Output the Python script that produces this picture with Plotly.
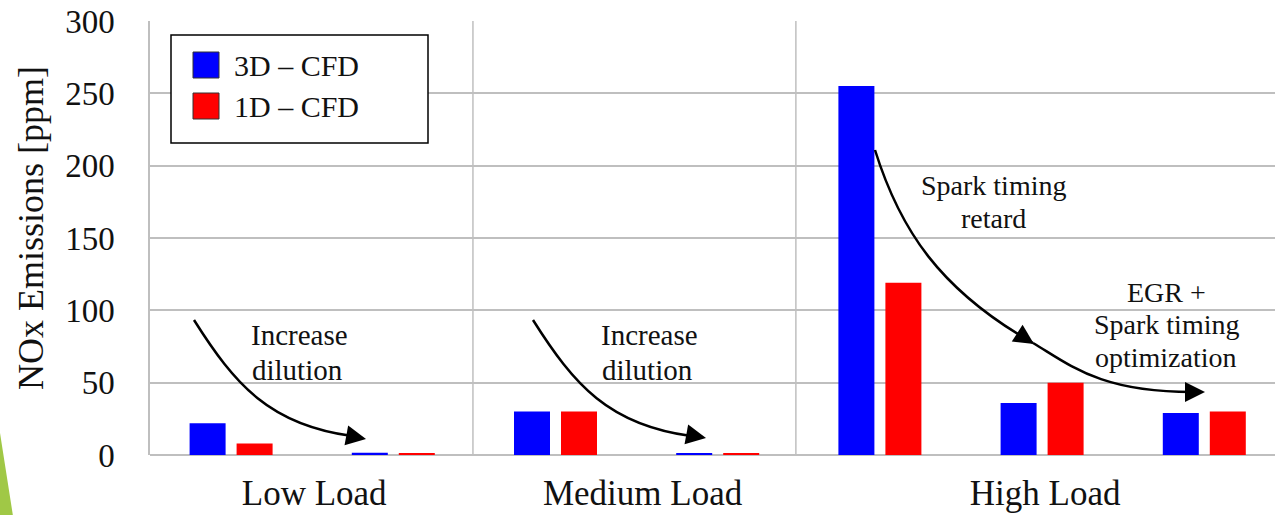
import plotly.graph_objects as go

# ---------------- data ----------------
categories = ["Low Load", "Medium Load", "High Load"]
cases_per_category = [2, 2, 3]
series_names = ["3D – CFD", "1D – CFD"]
nox_3d = [22, 1.5, 30, 1.0, 255, 36, 29]
nox_1d = [8, 0.8, 30, 0.8, 119, 50, 30]
y_ticks = [0, 50, 100, 150, 200, 250, 300]

# ---------------- layout constants ----------------
W, H = 1275, 515
ML, MT, MB = 150, 21, 60
PW, PH = W - ML, H - MT - MB
SLOT = 162.2                     # pixels per case slot
XMAX = PW / SLOT
YMAX = 300
BAR_W = 36 / SLOT
OFF = 23.5 / SLOT
SERIF = "Liberation Serif, Times New Roman, serif"
BLUE, RED = "#0000FF", "#FF0000"
GRID = "#BFBFBF"
LABEL_NUDGE = [2 / SLOT, 6 / SLOT, 3 / SLOT]


def dx(px):  # pixel -> data x
    return (px - ML) / SLOT


def dy(py):  # pixel -> data y
    return (MT + PH - py) / PH * YMAX


def pxp(px):  # pixel -> paper x
    return (px - ML) / PW


def pyp(py):  # pixel -> paper y
    return (MT + PH - py) / PH


n_cases = sum(cases_per_category)
centers = [i + 0.5 for i in range(n_cases)]

fig = go.Figure()
fig.add_trace(go.Bar(x=[c - OFF for c in centers], y=nox_3d, width=BAR_W,
                     marker=dict(color=BLUE, line=dict(width=0)),
                     name=series_names[0], showlegend=False))
fig.add_trace(go.Bar(x=[c + OFF for c in centers], y=nox_1d, width=BAR_W,
                     marker=dict(color=RED, line=dict(width=0)),
                     name=series_names[1], showlegend=False))

# category label positions and separators
cat_pos, seps, start = [], [], 0
for k, n in enumerate(cases_per_category):
    cat_pos.append(start + n / 2 + LABEL_NUDGE[k])
    start += n
    if k < len(cases_per_category) - 1:
        seps.append(start)

shapes = []
for s in seps:
    xs = s * 0.9955
    shapes.append(dict(type="line", xref="x", yref="y", x0=xs, x1=xs,
                       y0=0, y1=YMAX, line=dict(color=GRID, width=1.5), layer="below"))

# ---- legend box (manual, large swatches) ----
shapes.append(dict(type="rect", xref="paper", yref="paper",
                   x0=pxp(171), x1=pxp(428), y0=pyp(143), y1=pyp(35),
                   line=dict(color="#000000", width=1.5), fillcolor="white"))
for col, (t, b) in zip([BLUE, RED], [(52, 78), (93, 119)]):
    shapes.append(dict(type="rect", xref="paper", yref="paper",
                       x0=pxp(193), x1=pxp(219), y0=pyp(b), y1=pyp(t),
                       line=dict(color="#333333", width=1), fillcolor=col))

annotations = []
for name, cy in zip(series_names, [65, 106]):
    annotations.append(dict(xref="paper", yref="paper", x=pxp(232), y=pyp(cy),
                            xanchor="left", yanchor="middle", showarrow=False,
                            text=name, font=dict(family=SERIF, size=30, color="#111111")))


# ---- curved arrows ----
def bez(p):
    pts = [(dx(a), dy(b)) for a, b in p]
    return "M {} {} C {} {}, {} {}, {} {}".format(*[v for pt in pts for v in pt])


curves = [
    [(194, 320), (235, 385), (270, 425), (352, 436)],
    [(533, 320), (574, 385), (609, 425), (691, 436)],
    [(875, 150), (900, 230), (940, 290), (1033, 343)],
    [(1033, 343), (1070, 365), (1100, 392), (1192, 392)],
]
for c in curves:
    shapes.append(dict(type="path", xref="x", yref="y", path=bez(c),
                       line=dict(color="#000000", width=2.5)))

heads = [((366, 439), (-16, -3)), ((706, 438), (-16, -3)),
         ((1034, 344), (-14, -9)), ((1205, 392), (-16, 0))]
for (tx, ty), (ax, ay) in heads:
    annotations.append(dict(xref="x", yref="y", x=dx(tx), y=dy(ty), ax=ax, ay=ay,
                            text="", showarrow=True, arrowhead=2, arrowsize=1.6,
                            arrowwidth=2.5, arrowcolor="#000000"))

# ---- text notes ----
notes = [
    ("Increase", 299, 335, 29), ("dilution", 297, 370, 29),
    ("Increase", 649, 335, 29), ("dilution", 647, 370, 29),
    ("Spark timing", 993, 185, 28), ("retard", 993, 218, 28),
    ("EGR +", 1166, 292, 28), ("Spark timing", 1166, 324, 28),
    ("optimization", 1166, 357, 28),
]
for t, x, y, fs in notes:
    annotations.append(dict(xref="x", yref="y", x=dx(x), y=dy(y), text=t,
                            showarrow=False, xanchor="center", yanchor="middle",
                            font=dict(family=SERIF, size=fs, color="#111111")))

# ---- y title ----
annotations.append(dict(xref="paper", yref="paper", x=pxp(31), y=pyp(228),
                        text="NOx Emissions [ppm]", textangle=-90, showarrow=False,
                        xanchor="center", yanchor="middle",
                        font=dict(family=SERIF, size=36, color="#111111")))

# ---- slide decoration (green triangle) ----
shapes.append(dict(type="path", xref="paper", yref="paper",
                   path="M {} {} L {} {} L {} {} Z".format(pxp(0), pyp(433), pxp(13), pyp(516),
                                                          pxp(0), pyp(516)),
                   fillcolor="#A0C846", line=dict(width=0)))

fig.update_layout(
    width=W, height=H,
    margin=dict(l=ML, r=0, t=MT, b=MB, pad=0, autoexpand=False),
    paper_bgcolor="white", plot_bgcolor="white",
    font=dict(family=SERIF, color="#111111"),
    barmode="overlay",
    showlegend=False,
    shapes=shapes, annotations=annotations,
    xaxis=dict(range=[0, XMAX], tickvals=cat_pos, ticktext=categories,
               showgrid=False, zeroline=False, showline=False, ticks="",
               ticklabelstandoff=14, automargin=False,
               tickfont=dict(family=SERIF, size=35, color="#111111")),
    yaxis=dict(range=[0, YMAX], tickvals=y_ticks, showgrid=True, gridcolor=GRID,
               gridwidth=1.5, zeroline=True, zerolinecolor=GRID, zerolinewidth=1.5,
               showline=True, linecolor=GRID, linewidth=1.5, ticks="",
               ticklabelstandoff=27, automargin=False,
               tickfont=dict(family=SERIF, size=33, color="#111111")),
)

fig.write_html("out.html")
